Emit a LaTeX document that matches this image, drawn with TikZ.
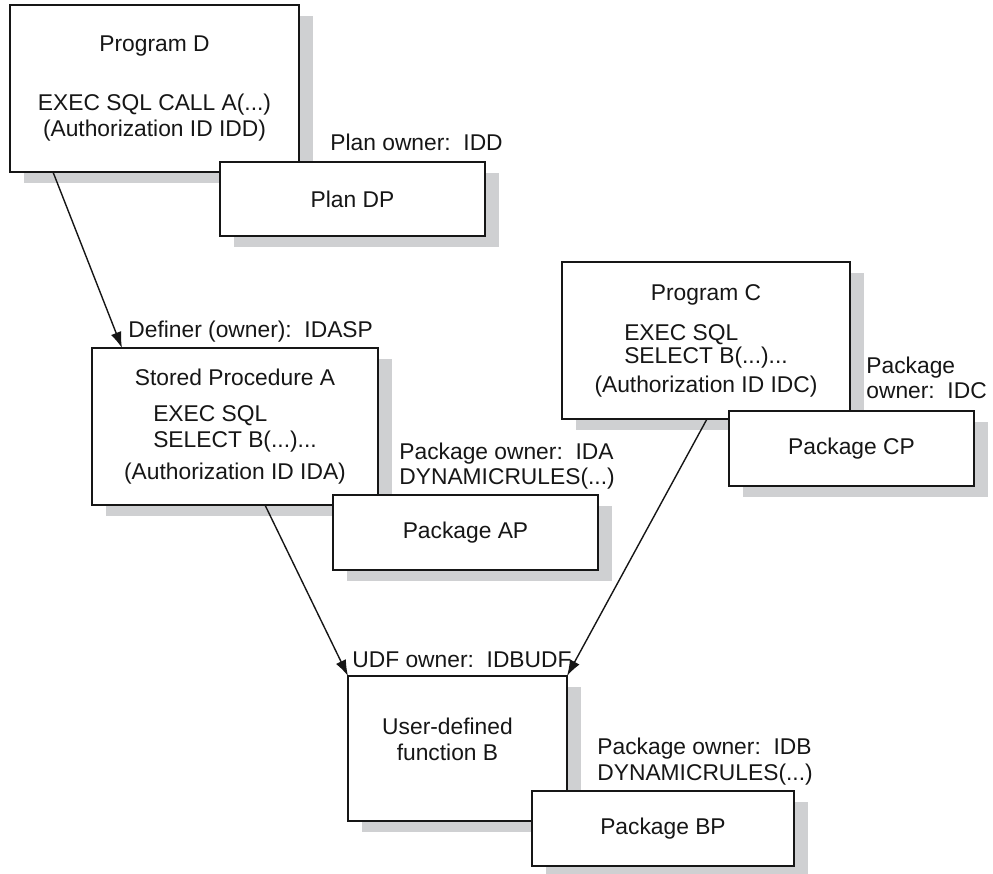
\documentclass[tikz,border=0pt]{standalone}
\usepackage{fontspec}
\setmainfont{Liberation Sans}
\usetikzlibrary{arrows.meta,shadows}
\definecolor{shadowgray}{RGB}{207,208,210}
\definecolor{inkgray}{RGB}{22,22,22}

\begin{document}
\begin{tikzpicture}[x=0.5pt, y=-0.5pt,
    every node/.style={font=\fontsize{11.4pt}{12.75pt}\selectfont, text=inkgray},
    box/.style={draw=inkgray, line width=0.85pt, fill=white, anchor=north west,
        inner sep=0pt, outer sep=0pt, align=center,
        drop shadow={shadow xshift=7pt, shadow yshift=-5.5pt, fill=shadowgray, opacity=1}},
    owner/.style={anchor=west, inner sep=0pt, align=left},
    link/.style={-{Latex[length=8pt, width=5.5pt]}, line width=0.7pt, draw=inkgray}]
        \useasboundingbox (0,0) rectangle (993,874);

        % Nodes
        \node[box, minimum width=144.5pt, minimum height=83.5pt] (progD) at (10,5) {Program D\\[16.75pt]EXEC SQL CALL A(...)\\(Authorization ID IDD)};
        \node[owner] (planDPowner) at (330,142) {Plan owner:\ \ IDD};
        \node[box, minimum width=132.5pt, minimum height=37pt] (planDP) at (220,162) {Plan DP};

        \node[owner] (procAowner) at (128,332) {Definer (owner):\ \ IDASP};
        \node[box, minimum width=143pt, minimum height=78.5pt] (procA) at (92,348) {Stored Procedure A\\[5.25pt]\rlap{EXEC SQL}\phantom{SELECT B(...)...}\\SELECT B(...)...\\[3.25pt](Authorization ID IDA)};
        \node[owner] (pkgAPowner) at (399,466) {Package owner:\ \ IDA\\DYNAMICRULES(...)};
        \node[box, minimum width=132.5pt, minimum height=37.5pt] (pkgAP) at (333,495) {Package AP};

        \node[box, minimum width=144pt, minimum height=78.5pt] (progC) at (562,262) {Program C\\[7.25pt]\rlap{EXEC SQL}\phantom{SELECT B(...)...}\\[-1.25pt]SELECT B(...)...\\[1.75pt](Authorization ID IDC)};
        \node[owner] (pkgCPowner) at (866,378) {Package\\owner:\ \ IDC};
        \node[box, minimum width=122.5pt, minimum height=37.5pt] (pkgCP) at (729,411) {Package CP};

        \node[owner] (udfBowner) at (352,660) {UDF owner:\ \ IDBUDF};
        \node[box, minimum width=109.5pt, minimum height=72.5pt] (udfB) at (348,676) {};
        \node[align=center] (udfBtext) at ([xshift=-5pt, yshift=4.5pt]udfB.center) {User-defined\\function B};
        \node[owner] (pkgBPowner) at (597,761.5) {Package owner:\ \ IDB\\DYNAMICRULES(...)};
        \node[box, minimum width=131pt, minimum height=37.5pt] (pkgBP) at (532,791) {Package BP};

        % Edges
        \draw[link] ([xshift=21.5pt]progD.south west) -- ([xshift=15pt]procA.north west);
        \draw[link] ([xshift=86.5pt]procA.south west) -- (udfB.north west);
        \draw[link] ([xshift=72.5pt]progC.south west) -- (udfB.north east);
    \end{tikzpicture}
\end{document}
